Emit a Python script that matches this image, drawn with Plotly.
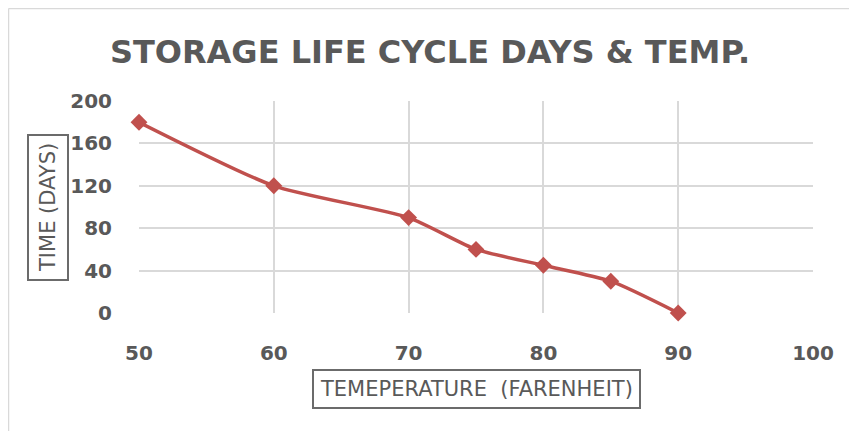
import plotly.graph_objects as go

temps = [50, 60, 70, 75, 80, 85, 90]
days = [180, 120, 90, 60, 45, 30, 0]
x_ticks = [50, 60, 70, 80, 90, 100]
y_ticks = [0, 40, 80, 120, 160, 200]

# page body has an 8px margin, so the figure is drawn slightly smaller
OFF = 8
W, H = 857 - OFF, 431 - OFF
L, T = 139 - OFF, 101 - OFF
R, B = W - (813 - OFF), H - (313 - OFF)
pw, ph = W - L - R, H - T - B

grey = "#595959"
box = "#6b6b6b"
grid = "#d9d9d9"
font = "DejaVu Sans"


def px_x(p):
    return (p - OFF - L) / pw


def px_y(p):
    return (H - B - (p - OFF)) / ph


fig = go.Figure()
fig.add_trace(go.Scatter(
    x=temps, y=days, mode="lines+markers",
    line=dict(color="#c0504d", width=3.5, shape="spline", smoothing=0.6),
    marker=dict(symbol="diamond", size=13, color="#c0504d"),
    showlegend=False, hoverinfo="x+y", cliponaxis=False,
))

fig.update_layout(
    width=W, height=H,
    margin=dict(l=L, r=R, t=T, b=B),
    paper_bgcolor="white", plot_bgcolor="white",
    title=dict(text="STORAGE LIFE CYCLE DAYS &amp; TEMP.",
               x=(430 - OFF) / W, xanchor="center",
               y=1 - (52 - OFF) / H, yanchor="middle", yref="container",
               font=dict(family=font, size=32, color=grey, weight="bold")),
    xaxis=dict(range=[50, 100], tickvals=x_ticks, showgrid=True, gridcolor=grid,
               gridwidth=1.5, zeroline=False, showline=False,
               tickfont=dict(family=font, size=20, color=grey, weight="bold"),
               ticklabelstandoff=26),
    yaxis=dict(range=[0, 200], tickvals=y_ticks, showgrid=True, gridcolor=grid,
               gridwidth=1.5, zeroline=False, showline=False,
               tickfont=dict(family=font, size=20, color=grey, weight="bold"),
               ticklabelstandoff=26),
    annotations=[
        dict(text="TIME (DAYS)", xref="paper", yref="paper",
             x=px_x(48), y=px_y(208), xanchor="center", yanchor="middle",
             textangle=-90, showarrow=False,
             font=dict(family=font, size=21, color=grey),
             bordercolor=box, borderwidth=2, borderpad=7),
        dict(text="TEMEPERATURE\u00a0\u00a0(FARENHEIT)", xref="paper", yref="paper",
             x=px_x(476), y=px_y(389), xanchor="center", yanchor="middle",
             showarrow=False,
             font=dict(family=font, size=21, color=grey),
             bordercolor=box, borderwidth=2, borderpad=6),
    ],
    shapes=[
        dict(type="line", xref="paper", yref="paper",
             x0=px_x(OFF + 0.5), x1=px_x(857), y0=px_y(OFF + 0.5), y1=px_y(OFF + 0.5),
             line=dict(color=grid, width=1.5)),
        dict(type="line", xref="paper", yref="paper",
             x0=px_x(OFF + 0.5), x1=px_x(OFF + 0.5), y0=px_y(OFF + 0.5), y1=px_y(431),
             line=dict(color=grid, width=1.5)),
    ],
)

fig.write_html("out.html")
